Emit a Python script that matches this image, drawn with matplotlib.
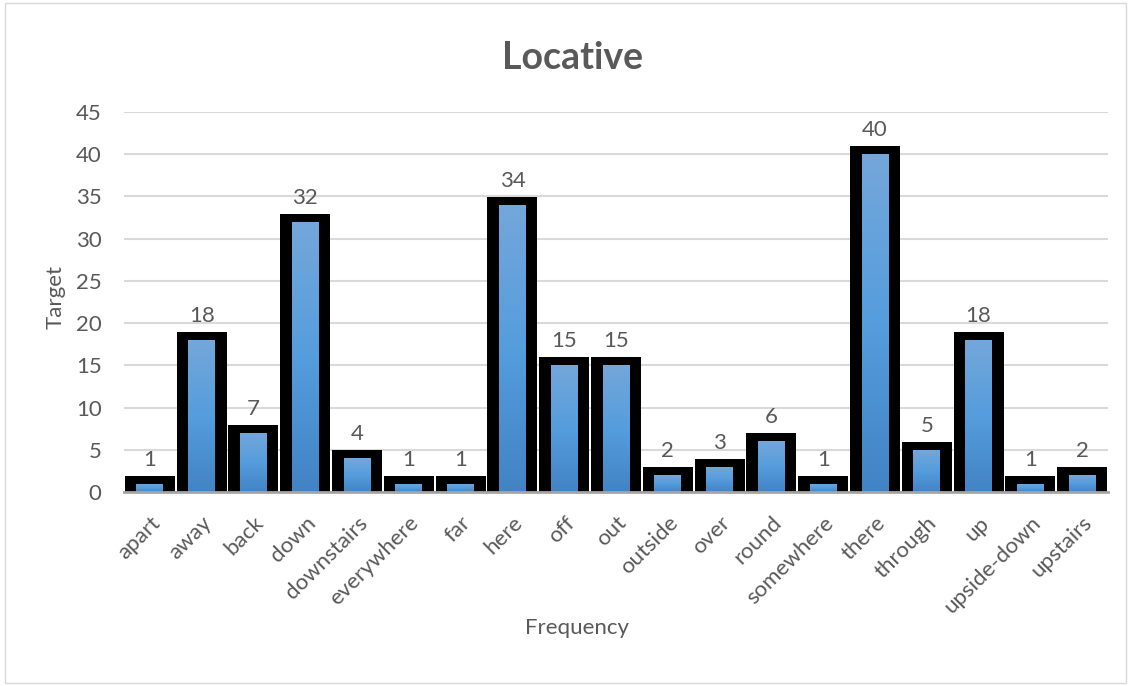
import numpy as np
import matplotlib.pyplot as plt
from matplotlib.colors import LinearSegmentedColormap
from matplotlib.patches import Rectangle

plt.rcParams['font.family'] = ['Lato', 'DejaVu Sans']

words = ['apart', 'away', 'back', 'down', 'downstairs', 'everywhere', 'far',
         'here', 'off', 'out', 'outside', 'over', 'round', 'somewhere',
         'there', 'through', 'up', 'upside-down', 'upstairs']
counts = [1, 18, 7, 32, 4, 1, 1, 34, 15, 15, 2, 3, 6, 1, 40, 5, 18, 1, 2]

x = np.arange(len(words))
text_col = '#595959'

fig = plt.figure(figsize=(11.31, 6.86), dpi=100)
ax = fig.add_axes([0.1096, 0.2828, 0.8701, 0.5539])

# black backdrop bars, a little taller than the value
pad = 0.95
ax.bar(x, np.array(counts) + pad, width=0.965, color='black', zorder=2)

# blue bars with a vertical gradient
grad = LinearSegmentedColormap.from_list('g', ['#4283c4', '#559ddd', '#74a7da'])
img = np.linspace(0, 1, 256).reshape(-1, 1)
bw = 0.52
for xi, c in zip(x, counts):
    r = Rectangle((xi - bw / 2, 0), bw, c, facecolor='none', edgecolor='none', zorder=3)
    ax.add_patch(r)
    im = ax.imshow(img, cmap=grad, origin='lower', aspect='auto',
                   extent=(xi - bw / 2, xi + bw / 2, 0, c), zorder=3)
    im.set_clip_path(r)
    ax.text(xi, c + pad + 0.7, str(c), ha='center', va='bottom',
            fontsize=16, color=text_col, zorder=4)

ax.set_xlim(-0.5, len(words) - 0.5)
ax.set_ylim(0, 45)
ax.set_yticks(range(0, 46, 5))
ax.yaxis.grid(True, color='#d9d9d9', linewidth=1.5, zorder=0)
ax.set_axisbelow(True)
for s in ['top', 'right', 'left']:
    ax.spines[s].set_visible(False)
ax.spines['bottom'].set_color('#a6a6a6')
ax.spines['bottom'].set_linewidth(2)
ax.spines['bottom'].set_zorder(5)

ax.set_xticks(x)
ax.set_xticklabels(words, rotation=45, ha='right', rotation_mode='anchor',
                   fontsize=16, color=text_col)
ax.set_xticks(np.arange(-0.5, len(words), 1), minor=True)
ax.tick_params(axis='x', which='major', length=0, pad=15)
ax.tick_params(axis='x', which='minor', length=6, width=1.2, color='white')
ax.tick_params(axis='y', length=0, labelsize=16, labelcolor=text_col, pad=16)

fig.text(0.51, 0.085, 'Frequency', ha='center', va='center', fontsize=16, color=text_col)
fig.text(0.049, 0.567, 'Target', ha='center', va='center', rotation=90,
         fontsize=16, color=text_col)
fig.text(0.506, 0.915, 'Locative', ha='center', va='center', fontsize=27,
         fontweight='bold', color=text_col)

fig.patches.append(Rectangle((0.004, 0.004), 0.992, 0.992, transform=fig.transFigure,
                             fill=False, edgecolor='#d9d9d9', linewidth=1))

fig.savefig('out.png', dpi=100)
